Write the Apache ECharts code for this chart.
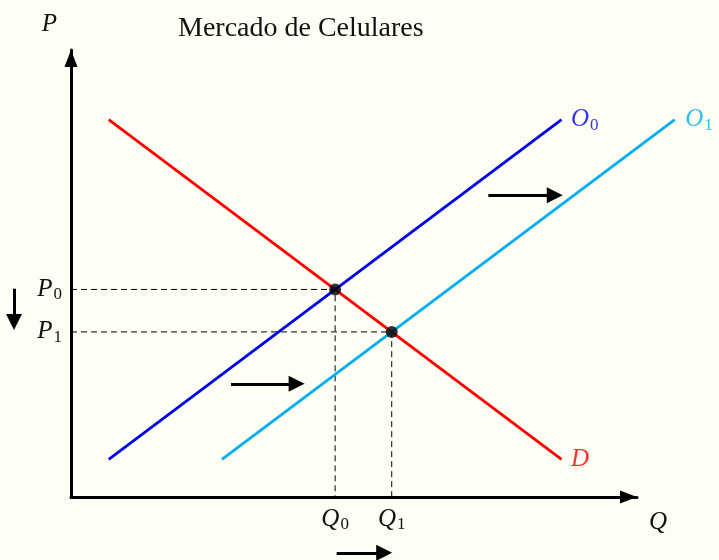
<!DOCTYPE html>
<html><head><meta charset="utf-8">
<script src="https://cdn.jsdelivr.net/npm/echarts@6/dist/echarts.min.js"></script>
<style>html,body{margin:0;padding:0;background:#fffef5;}#c{width:719px;height:560px;}</style>
</head><body><div id="c"></div>
<script>
// Data
const demandD = [[0.5, 5], [6.5, 0.5]];
const supplyO0 = [[0.5, 0.5], [6.5, 5]];
const supplyO1 = [[2, 0.5], [8, 5]];
const curveLabels = ['D', 'O0', 'O1'];
const equilibria = [[3.5, 2.75], [4.25, 2.1875]];
const priceTicks = [2.75, 2.1875];
const priceLabels = ['{v|P}{s|0}', '{v|P}{s|1}'];
const qtyTicks = [3.5, 4.25];
const qtyLabels = ['{v|Q}{s|0}', '{v|Q}{s|1}'];
const shiftArrows = [
  [[5.53, 4], [6.41, 4]],
  [[2.12, 1.5], [2.99, 1.5]],
  [[3.52, -0.74], [4.15, -0.74]],
  [[-0.755, 2.76], [-0.755, 2.32]]
];

const serif = 'Liberation Serif';
function richFor(color) {
  return {
    v: {fontFamily: serif, fontStyle: 'italic', fontSize: 25, color: color},
    s: {fontFamily: serif, fontSize: 17, padding: [11, 0, 0, 1], color: color}
  };
}
const RED = '#ff0000', BLUE = '#0000ee', CYAN = '#00aeef';

const chart = echarts.init(document.getElementById('c'), null, {renderer: 'canvas'});
const option = {
  backgroundColor: '#fffef5',
  animation: false,
  title: {
    text: 'Mercado de Celulares', left: 173, top: 10,
    textStyle: {fontFamily: serif, fontWeight: 'normal', fontSize: 28, color: '#111'}
  },
  grid: {left: 71, top: 50, width: 566, height: 447},
  xAxis: {
    type: 'value', min: 0, max: 7.5,
    name: 'Q', nameLocation: 'end', nameGap: 12,
    nameTextStyle: {fontFamily: serif, fontStyle: 'italic', fontSize: 25, color: '#111', align: 'left', verticalAlign: 'top', padding: [13, 0, 0, 0]},
    axisLine: {show: true, lineStyle: {color: '#000', width: 3}, symbol: ['none', 'triangle'], symbolSize: [13, 17], symbolOffset: [0, -8.5]},
    axisTick: {show: false},
    splitLine: {show: false},
    axisLabel: {
      customValues: qtyTicks, margin: 8, color: '#111',
      formatter: (v) => qtyLabels[qtyTicks.indexOf(v)] || '',
      rich: richFor('#111')
    }
  },
  yAxis: {
    type: 'value', min: 0, max: 447 / 75.4667,
    name: 'P', nameLocation: 'end', nameGap: 26,
    nameTextStyle: {fontFamily: serif, fontStyle: 'italic', fontSize: 25, color: '#111', align: 'right', verticalAlign: 'middle', padding: [0, 14, 0, 0]},
    axisLine: {show: true, lineStyle: {color: '#000', width: 3}, symbol: ['none', 'triangle'], symbolSize: [13, 17], symbolOffset: [0, -8.5]},
    axisTick: {show: false},
    splitLine: {show: false},
    axisLabel: {
      customValues: priceTicks, margin: 9, color: '#111',
      formatter: (v) => priceLabels[priceTicks.indexOf(v)] || '',
      rich: richFor('#111')
    }
  },
  series: [
    {type: 'line', data: [[0, equilibria[0][1]], equilibria[0], [equilibria[0][0], 0]], symbol: 'none',
     lineStyle: {color: '#000', width: 1, type: [6, 4]}, z: 1},
    {type: 'line', data: [[0, equilibria[1][1]], equilibria[1], [equilibria[1][0], 0]], symbol: 'none',
     lineStyle: {color: '#000', width: 1, type: [6, 4]}, z: 1},
    {type: 'lines', coordinateSystem: 'cartesian2d', clip: false, z: 3,
     data: [
       {coords: demandD, lineStyle: {color: RED}},
       {coords: supplyO0, lineStyle: {color: BLUE}},
       {coords: supplyO1, lineStyle: {color: CYAN}}
     ],
     lineStyle: {width: 2.8, opacity: 1}},
    {type: 'scatter', clip: false, symbolSize: 1, itemStyle: {color: 'transparent'}, z: 4,
     data: [
       {value: demandD[1], label: {show: true, position: 'right', distance: 9, formatter: '{v|' + curveLabels[0] + '}', rich: richFor(RED)}},
       {value: supplyO0[1], label: {show: true, position: 'right', distance: 9, formatter: '{v|O}{s|0}', rich: richFor(BLUE)}},
       {value: supplyO1[1], label: {show: true, position: 'right', distance: 10, formatter: '{v|O}{s|1}', rich: richFor(CYAN)}}
     ]},
    {type: 'scatter', data: equilibria, symbol: 'circle', symbolSize: 12, itemStyle: {color: '#000'}, z: 5},
    {type: 'lines', coordinateSystem: 'cartesian2d', clip: false,
     data: shiftArrows.map(c => ({coords: c})),
     symbol: ['none', 'triangle'], symbolSize: [12, 16],
     lineStyle: {color: '#000', width: 3, opacity: 1}, z: 6}
  ]
};
chart.setOption(option);
</script>
</body></html>
